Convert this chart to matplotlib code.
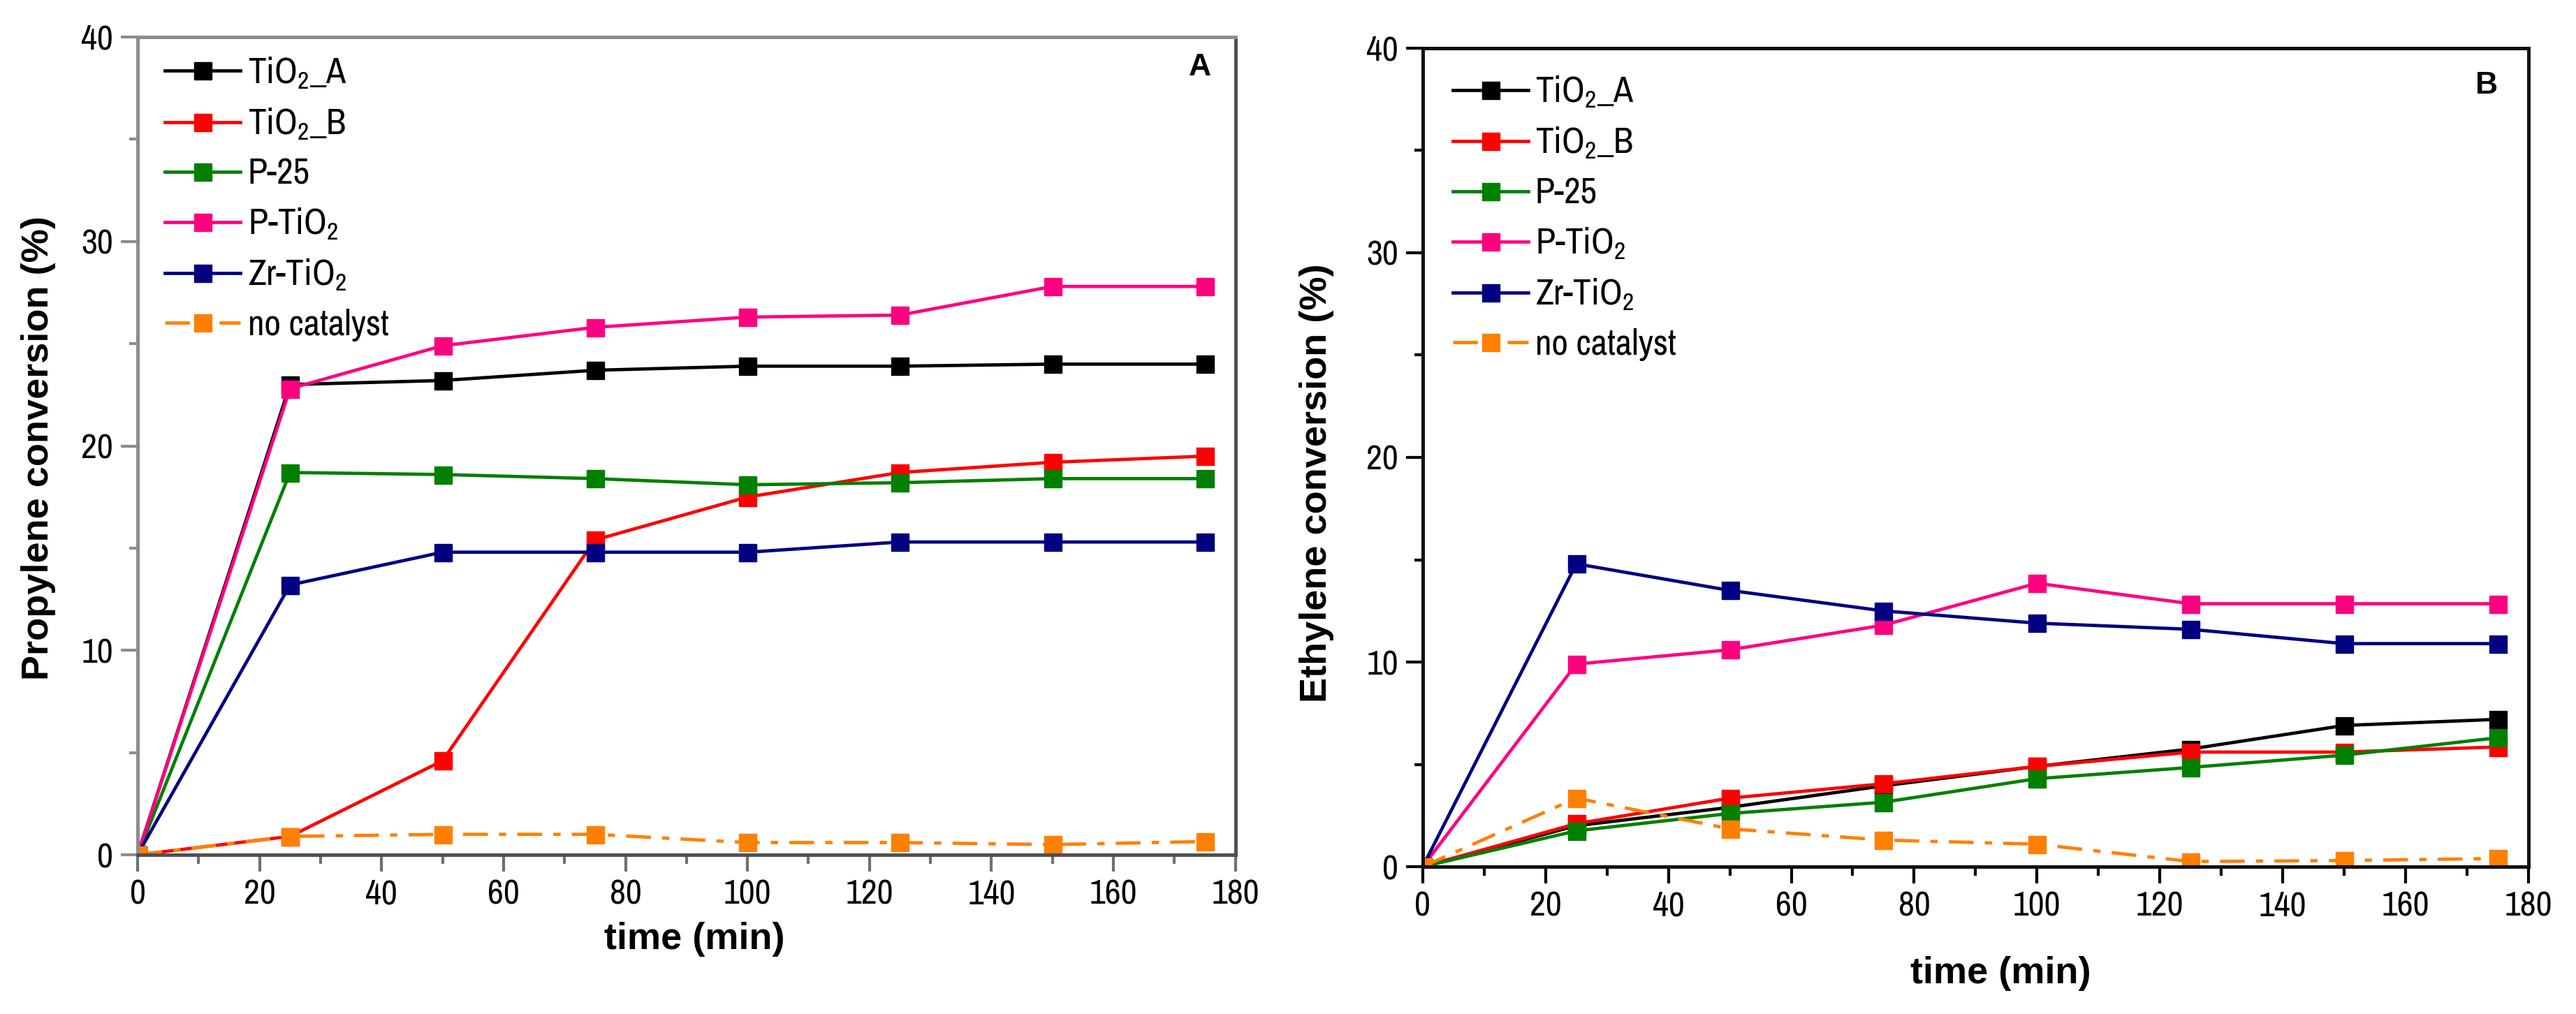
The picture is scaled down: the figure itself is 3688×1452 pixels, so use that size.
import numpy as np
import matplotlib
matplotlib.use("Agg")
import matplotlib.pyplot as plt
from matplotlib.ticker import MultipleLocator

plt.rcParams['font.family'] = ['Liberation Sans Narrow', 'Archivo Narrow', 'PT Sans Narrow',
                               'Roboto Condensed', 'Liberation Sans', 'DejaVu Sans']
plt.rcParams['mathtext.default'] = 'regular'

# ---------------- data ----------------
time = [0, 25, 50, 75, 100, 125, 150, 175]
labels = ['TiO$_2$_A', 'TiO$_2$_B', 'P-25', 'P-TiO$_2$', 'Zr-TiO$_2$', 'no catalyst']
colors = ['#000000', '#ff0000', '#008000', '#ff0080', '#000080', '#ff8000']

# panel A: propylene conversion (%)
prop_tio2_a = [0, 23.0, 23.2, 23.7, 23.9, 23.9, 24.0, 24.0]
prop_tio2_b = [0, 0.9, 4.6, 15.4, 17.5, 18.7, 19.2, 19.5]
prop_p25 = [0, 18.7, 18.6, 18.4, 18.1, 18.2, 18.4, 18.4]
prop_p_tio2 = [0, 22.8, 24.9, 25.8, 26.3, 26.4, 27.8, 27.8]
prop_zr_tio2 = [0, 13.2, 14.8, 14.8, 14.8, 15.3, 15.3, 15.3]
prop_none = [0, 0.9, 1.0, 1.0, 0.6, 0.6, 0.5, 0.65]

# panel B: ethylene conversion (%)
eth_tio2_a = [0, 2.0, 2.9, 3.95, 4.9, 5.75, 6.9, 7.2]
eth_tio2_b = [0, 2.1, 3.35, 4.05, 4.9, 5.6, 5.6, 5.85]
eth_p25 = [0, 1.75, 2.6, 3.15, 4.3, 4.85, 5.45, 6.3]
eth_p_tio2 = [0, 9.9, 10.6, 11.8, 13.85, 12.85, 12.85, 12.85]
eth_zr_tio2 = [0, 14.8, 13.5, 12.5, 11.9, 11.6, 10.9, 10.9]
eth_none = [0, 3.35, 1.85, 1.3, 1.1, 0.25, 0.3, 0.4]

prop = [prop_tio2_a, prop_tio2_b, prop_p25, prop_p_tio2, prop_zr_tio2, prop_none]
eth = [eth_tio2_a, eth_tio2_b, eth_p25, eth_p_tio2, eth_zr_tio2, eth_none]

fig = plt.figure(figsize=(36.88, 14.52), dpi=100)
ax1 = fig.add_axes([0.0534, 0.157, 0.4262, 0.8065])
ax2 = fig.add_axes([0.5523, 0.1453, 0.4292, 0.8072])


def draw(ax, series):
    for vals, lab, col in zip(series, labels, colors):
        if lab == 'no catalyst':
            ax.plot(time, vals, color=col, lw=3.4, marker='s', ms=18, label=lab,
                    dashes=(7.5, 3.4, 2.2, 3.4))
        else:
            ax.plot(time, vals, color=col, lw=3.4, marker='s', ms=18, label=lab)
    ax.set_xlim(0, 180)
    ax.set_ylim(0, 40)
    ax.xaxis.set_major_locator(MultipleLocator(20))
    ax.xaxis.set_minor_locator(MultipleLocator(10))
    ax.yaxis.set_major_locator(MultipleLocator(10))
    ax.yaxis.set_minor_locator(MultipleLocator(5))
    ax.tick_params(which='major', direction='out', length=17, width=3, pad=8,
                   labelsize=36)
    ax.tick_params(which='minor', direction='out', length=9, width=3)
    for s in ax.spines.values():
        s.set_linewidth(3.6)


draw(ax1, prop)
draw(ax2, eth)

# left panel has grey frame
ax1.spines['left'].set_color('#8c8c8c')
ax1.spines['top'].set_color('#8c8c8c')
ax1.spines['right'].set_color('#505050')
ax1.spines['bottom'].set_color('#505050')
ax1.tick_params(axis='x', which='both', color='#707070')
ax1.tick_params(axis='y', which='both', color='#8c8c8c')
for s in ax2.spines.values():
    s.set_color('#111111')

leg_kw = dict(loc='upper left', frameon=False, fontsize=37, handlelength=2.1,
              handletextpad=0.2, labelspacing=0.45, borderaxespad=0)
ax1.legend(bbox_to_anchor=(0.012, 0.995), **leg_kw)
ax2.legend(bbox_to_anchor=(0.014, 0.985), **leg_kw)

ax1.text(1718 / 3688, 1 - 97 / 1452, 'A', transform=fig.transFigure, fontsize=32,
         fontweight='bold', family='Liberation Sans', ha='center', va='center')
ax2.text(3560 / 3688, 1 - 122 / 1452, 'B', transform=fig.transFigure, fontsize=32,
         fontweight='bold', family='Liberation Sans', ha='center', va='center')

fig.text(55 / 3688, 1 - 642 / 1452, 'Propylene conversion (%)', rotation=90,
         fontsize=39, fontweight='bold', family='Liberation Sans', ha='center', va='center')
fig.text(1885 / 3688, 1 - 692 / 1452, 'Ethylene conversion (%)', rotation=90,
         fontsize=39, fontweight='bold', family='Liberation Sans', ha='center', va='center')
fig.text(994 / 3688, 1 - 1345 / 1452, 'time (min)', fontsize=39, fontweight='bold',
         family='Liberation Sans', ha='center', va='center')
fig.text(2864 / 3688, 1 - 1394 / 1452, 'time (min)', fontsize=39, fontweight='bold',
         family='Liberation Sans', ha='center', va='center')

fig.savefig('out.png', dpi=100)
